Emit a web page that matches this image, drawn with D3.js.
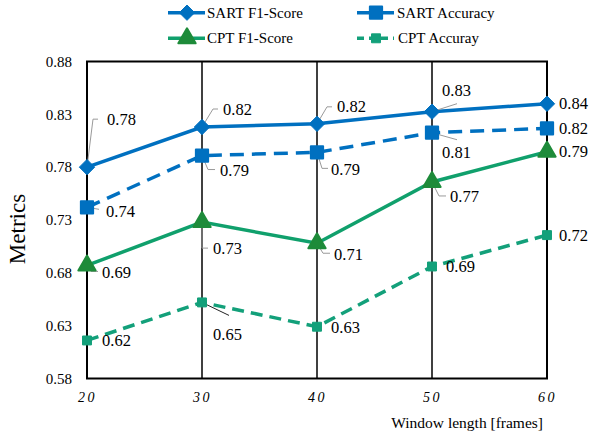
<!DOCTYPE html>
<html>
<head>
<meta charset="utf-8">
<script src="https://cdn.jsdelivr.net/npm/d3@7"></script>
<style>
  html, body { margin: 0; padding: 0; background: #fff; }
  svg { display: block; }
  svg text { font-family: "Liberation Serif", "DejaVu Serif", serif; }
</style>
</head>
<body>
<svg id="chart" width="591" height="437"></svg>
<script>
// Window lengths (frames) and metric values per series
const windows = [20, 30, 40, 50, 60];
const sartF1 = [0.780, 0.818, 0.821, 0.8325, 0.840];
const sartAcc = [0.742, 0.791, 0.794, 0.8126, 0.8167];
const cptF1 = [0.687, 0.728, 0.708, 0.766, 0.7946];
const cptAcc = [0.616, 0.652, 0.629, 0.686, 0.7157];
const yTicks = [0.58, 0.63, 0.68, 0.73, 0.78, 0.83, 0.88];
const seriesNames = ["SART F1-Score", "SART Accuracy", "CPT F1-Score", "CPT Accuray"];

const SERIF = "Liberation Serif";

// Label placement (pixel offsets from each point) and leader lines
const labelOffsets = [
  [[20, -48], [21, -18], [20, -17], [10, -21], [12, 0]],
  [[19, 4], [18, 15], [14, 17], [10, 20], [12, 0]],
  [[15, 7], [11, 26], [17, 11], [18, 15], [12, 0]],
  [[15, 0], [11, 32], [14, 1], [14, 0], [12, 0]]
];
const leaders = [
  [[[0, 0], [6, -48], [11, -48]], [[0, 0], [11, -18], [16, -18]], [[0, 0], [10, -17], [15, -17]], [[0, 0], [25, -8]], null],
  [[[0, 0], [12, 2]], [[0, 0], [6, 14], [13, 14]], [[0, 0], [5, 16], [11, 16]], [[0, 0], [25, 7]], null],
  [[[0, 0], [4, 6], [11, 6]], [[0, 0], [0, 26], [6, 26]], [[0, 0], [6, 10], [13, 10]], [[0, 0], [7, 14], [14, 14]], null],
  [null, [[0, 0], [27, 13]], null, null, null]
];

const svg = d3.select("#chart");
const x = d3.scaleLinear().domain([20, 60]).range([87, 547]);
const y = d3.scaleLinear().domain([0.58, 0.88]).range([378.5, 61.5]);

const blue = "#0070C0";
const green = "#10A06C";
const greenDark = "#1E8B3A";
const teal = "#13A07A";

const styles = [
  { values: sartF1, color: blue, marker: "diamond", fill: blue, dash: null, size: 150 },
  { values: sartAcc, color: blue, marker: "rsquare", fill: blue, dash: "14,8", size: 150 },
  { values: cptF1, color: green, marker: "triangle", fill: greenDark, dash: null, size: 130 },
  { values: cptAcc, color: teal, marker: "square", fill: teal, dash: "12,7", size: 80 }
];

// Frame and vertical grid
const g = svg.append("g");
g.append("rect")
  .attr("x", x(20)).attr("y", y(0.88))
  .attr("width", x(60) - x(20)).attr("height", y(0.58) - y(0.88))
  .attr("fill", "none").attr("stroke", "#000").attr("stroke-width", 2);
g.selectAll("line.grid").data(windows.slice(1, -1)).join("line")
  .attr("class", "grid")
  .attr("x1", d => x(d)).attr("x2", d => x(d))
  .attr("y1", y(0.88)).attr("y2", y(0.58))
  .attr("stroke", "#000").attr("stroke-width", 1.5);

// Y axis
const yAxis = d3.axisLeft(y).tickValues(yTicks).tickFormat(d3.format(".2f")).tickSize(0).tickPadding(15);
const ya = svg.append("g").attr("transform", `translate(${x(20)},0)`).call(yAxis);
ya.attr("font-family", SERIF);
ya.select(".domain").remove();
ya.selectAll("text").attr("font-family", SERIF).attr("font-size", 15).attr("fill", "#000");

// X axis (italic, spaced numerals)
const xAxis = d3.axisBottom(x).tickValues(windows).tickFormat(d3.format("d")).tickSize(0).tickPadding(14);
const xa = svg.append("g").attr("transform", `translate(0,${y(0.58)})`).call(xAxis);
xa.attr("font-family", SERIF);
xa.select(".domain").remove();
xa.selectAll("text").attr("font-family", SERIF).attr("font-size", 14)
  .attr("font-style", "italic").attr("letter-spacing", "2.5px").attr("fill", "#000");

// Axis titles
svg.append("text").attr("transform", "translate(17,229) rotate(-90)")
  .attr("text-anchor", "middle").attr("dominant-baseline", "central")
  .attr("font-family", SERIF).attr("font-size", 23).text("Metrics");
svg.append("text").attr("x", 543).attr("y", 428).attr("text-anchor", "end")
  .attr("font-family", SERIF).attr("font-size", 15.5).text("Window length [frames]");

function markerPath(type, size) {
  if (type === "diamond") return d3.symbol(d3.symbolDiamond2, size)();
  if (type === "triangle") return d3.symbol(d3.symbolTriangle, size)();
  return d3.symbol(d3.symbolSquare, size)();
}

const line = d3.line().x((d, i) => x(windows[i])).y(d => y(d));

// Series lines, markers, value labels
styles.forEach((s, si) => {
  const sg = svg.append("g");
  sg.append("path").datum(s.values)
    .attr("d", line).attr("fill", "none")
    .attr("stroke", s.color).attr("stroke-width", 3.5)
    .attr("stroke-dasharray", s.dash);

  // leader lines
  s.values.forEach((v, i) => {
    const L = leaders[si][i];
    if (!L) return;
    const px = x(windows[i]), py = y(v);
    sg.append("path")
      .attr("d", d3.line()(L.map(p => [px + p[0], py + p[1]])))
      .attr("fill", "none")
      .attr("stroke", si === 3 ? "#222" : "#9a9a9a")
      .attr("stroke-width", 1);
  });

  sg.selectAll("path.mk").data(s.values).join("path")
    .attr("class", "mk")
    .attr("d", markerPath(s.marker, s.size))
    .attr("transform", (d, i) => `translate(${x(windows[i])},${y(d)})`)
    .attr("fill", s.fill)
    .attr("stroke", s.fill)
    .attr("stroke-width", s.marker === "rsquare" || s.marker === "triangle" ? 2 : 1)
    .attr("stroke-linejoin", "round");

  sg.selectAll("text.val").data(s.values).join("text")
    .attr("class", "val")
    .attr("x", (d, i) => x(windows[i]) + labelOffsets[si][i][0])
    .attr("y", (d, i) => y(d) + labelOffsets[si][i][1])
    .attr("dominant-baseline", "central")
    .attr("font-family", SERIF)
    .attr("font-size", 16.5).attr("fill", "#000")
    .text(d => d3.format(".2f")(d));
});

// Legend
const legendPos = [[168, 12.7], [357, 12.7], [168, 38.3], [357, 38.3]];
styles.forEach((s, si) => {
  const [lx, ly] = legendPos[si];
  const lg = svg.append("g").attr("transform", `translate(${lx},${ly})`);
  lg.append("line").attr("x1", 0).attr("x2", 37).attr("y1", 0).attr("y2", 0)
    .attr("stroke", s.color).attr("stroke-width", 3.5)
    .attr("stroke-dasharray", si === 3 ? "7,5" : null);
  lg.append("path").attr("d", markerPath(s.marker, s.size))
    .attr("transform", "translate(19,0)")
    .attr("fill", s.fill).attr("stroke", s.fill)
    .attr("stroke-width", s.marker === "rsquare" || s.marker === "triangle" ? 2 : 1)
    .attr("stroke-linejoin", "round");
  lg.append("text").attr("x", si % 2 === 0 ? 39 : 40 + (si === 3 ? 1 : 0)).attr("y", 0)
    .attr("dominant-baseline", "central")
    .attr("font-family", SERIF).attr("font-size", 15).attr("fill", "#000")
    .text(seriesNames[si]);
});
</script>
</body>
</html>
